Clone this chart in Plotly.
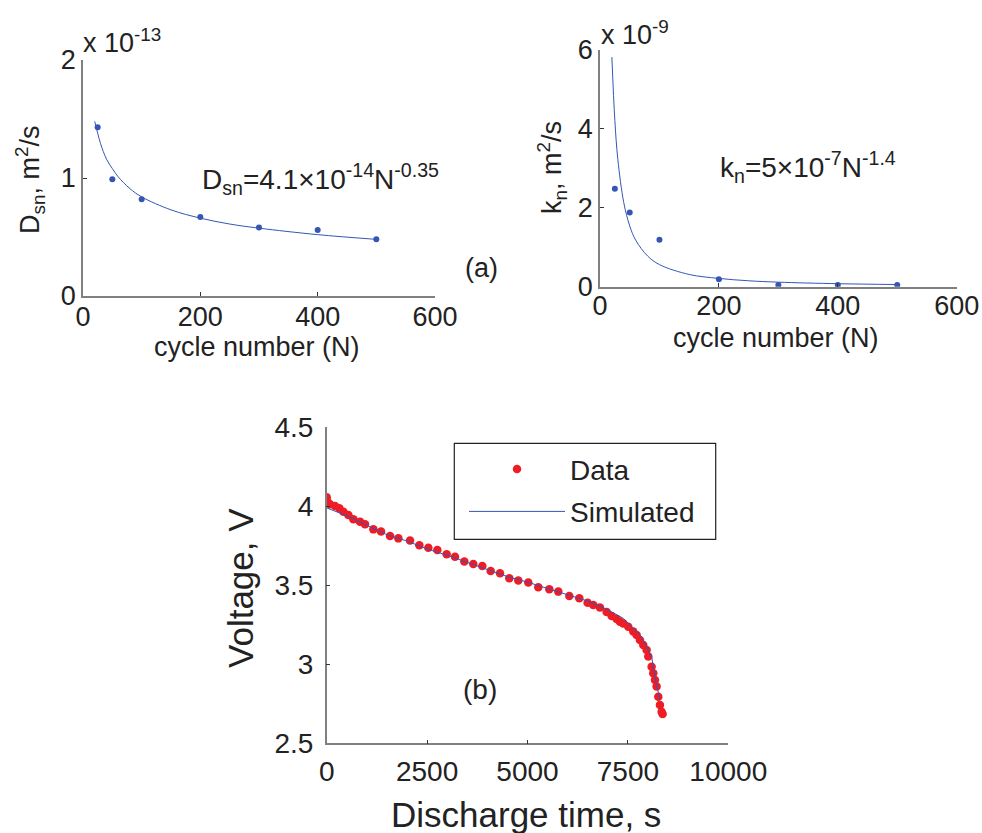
import plotly.graph_objects as go

# ---------- data ----------
cycles = [25, 50, 100, 200, 300, 400, 500]
dsn_pts = [1.43, 0.99, 0.82, 0.67, 0.58, 0.56, 0.48]          # x 1e-13 m^2/s
kn_pts = [2.48, 1.88, 1.19, 0.19, 0.04, 0.04, 0.04]           # x 1e-9 m^2/s

fit_N = [20, 25, 30, 40, 50, 60, 80, 100, 150, 200, 250, 300, 400, 500]
dsn_fit = [1.48, 1.38, 1.29, 1.16, 1.08, 1.01, 0.91, 0.84, 0.73, 0.66, 0.61, 0.575, 0.52, 0.48]
kn_fit = [5.82, 4.21, 3.23, 2.13, 1.54, 1.18, 0.78, 0.56, 0.31, 0.21, 0.15, 0.115, 0.076, 0.055]

t_data = [0, 17, 83, 207, 315, 415, 539, 664, 830, 954, 1162, 1353, 1577, 1784, 2075,
          2307, 2531, 2755, 2987, 3195, 3427, 3651, 3875, 4083, 4315, 4547, 4771, 5020,
          5269, 5543, 5767, 6041, 6290, 6497, 6638, 6804, 6970, 7095, 7219, 7302, 7385,
          7510, 7634, 7717, 7800, 7883, 7966, 8008, 8091, 8132, 8174, 8215, 8257, 8298,
          8340, 8364]
v_data = [4.057, 4.030, 4.013, 4.002, 3.987, 3.966, 3.945, 3.918, 3.903, 3.886, 3.854,
          3.840, 3.812, 3.797, 3.783, 3.753, 3.738, 3.724, 3.696, 3.681, 3.650, 3.635,
          3.622, 3.591, 3.576, 3.544, 3.530, 3.517, 3.487, 3.475, 3.460, 3.432, 3.418,
          3.390, 3.376, 3.359, 3.331, 3.306, 3.287, 3.270, 3.259, 3.238, 3.207, 3.186,
          3.154, 3.122, 3.091, 3.049, 2.985, 2.943, 2.901, 2.859, 2.795, 2.743, 2.700,
          2.686]
t_sim = [0, 500, 1000, 1500, 2000, 2500, 3000, 3500, 4000, 4500, 5000, 5500, 6000,
         6500, 7000, 7385, 7842, 8091, 8174, 8298]
v_sim = [3.99, 3.94, 3.88, 3.82, 3.78, 3.73, 3.69, 3.645, 3.60, 3.555, 3.52, 3.48,
         3.44, 3.40, 3.345, 3.291, 3.175, 3.049, 2.922, 2.774]

x_ticks_top = [0, 200, 400, 600]
y_ticks_a = [0, 1, 2]
y_ticks_b = [0, 2, 4, 6]
x_ticks_bot = [0, 2500, 5000, 7500, 10000]
x_ticktext_bot = ["0", "2500", "5000", "7500", "10000"]
y_ticks_bot = [2.5, 3, 3.5, 4, 4.5]

W, H = 982, 833
def px(x):
    return x / W
def py(y):
    return 1 - y / H

BLUE = "#3556B4"
RED = "#EE1D25"
FONT = "Liberation Sans, Arial, sans-serif"
AXC = "#808080"

fig = go.Figure()
fig.add_trace(go.Scatter(x=cycles, y=dsn_pts, mode="markers", marker=dict(color=BLUE, size=6),
                         xaxis="x", yaxis="y", showlegend=False))
fig.add_trace(go.Scatter(x=fit_N, y=dsn_fit, mode="lines", line=dict(color=BLUE, width=1, shape="spline"),
                         xaxis="x", yaxis="y", showlegend=False))
fig.add_trace(go.Scatter(x=cycles, y=kn_pts, mode="markers", marker=dict(color=BLUE, size=6),
                         xaxis="x2", yaxis="y2", showlegend=False))
fig.add_trace(go.Scatter(x=fit_N, y=kn_fit, mode="lines", line=dict(color=BLUE, width=1, shape="spline"),
                         xaxis="x2", yaxis="y2", showlegend=False))
fig.add_trace(go.Scatter(x=t_data, y=v_data, mode="markers", name="Data", legendgroup="d",
                         marker=dict(color=RED, size=8.5), xaxis="x3", yaxis="y3"))
fig.add_trace(go.Scatter(x=t_sim, y=v_sim, mode="lines", name="Simulated", legendgroup="s",
                         line=dict(color=BLUE, width=1), xaxis="x3", yaxis="y3"))

def ax(domain, rng, ticks, anchor, size, standoff, ticktext=None):
    d = dict(domain=domain, range=rng, tickvals=ticks, anchor=anchor, showgrid=False,
             zeroline=False, showline=True, linecolor=AXC, linewidth=1.5,
             ticks="inside", ticklen=4, tickcolor="#333", tickwidth=1,
             tickfont=dict(family=FONT, size=size, color="#222"),
             ticklabelstandoff=standoff, automargin=False)
    if ticktext is not None:
        d["ticktext"] = ticktext
    return d

fig.update_layout(
    width=W, height=H, margin=dict(l=0, r=0, t=0, b=0, pad=0, autoexpand=False),
    plot_bgcolor="white", paper_bgcolor="white",
    xaxis=ax([px(83), px(435)], [0, 600], x_ticks_top, "y", 27, -4),
    yaxis=ax([py(296), py(60)], [0, 2], y_ticks_a, "x", 27, 0),
    xaxis2=ax([px(600), px(956.7)], [0, 600], x_ticks_top, "y2", 27, -6),
    yaxis2=ax([py(286.7), py(50)], [0, 6], y_ticks_b, "x2", 27, 0),
    xaxis3=ax([px(326.7), px(728.3)], [0, 10000], x_ticks_bot, "y3", 28, 2, x_ticktext_bot),
    yaxis3=ax([py(743.3), py(427.3)], [2.5, 4.5], y_ticks_bot, "x3", 28, 6),
    showlegend=True,
    legend=dict(x=px(464), y=py(444.3), xanchor="left", yanchor="top",
                borderwidth=0, bgcolor="rgba(255,255,255,0)",
                font=dict(family=FONT, size=28, color="#222"), itemwidth=96,
                tracegroupgap=3),
    shapes=[dict(type="rect", xref="paper", yref="paper",
                 x0=px(454.3), x1=px(715.7), y0=py(539.3), y1=py(443.3),
                 line=dict(color="#222", width=1.2), fillcolor="white", layer="below")],
)

def ann(text, x, y, size, angle=0, xanchor="center", yanchor="middle"):
    fig.add_annotation(text=text, x=px(x), y=py(y), xref="paper", yref="paper",
                       showarrow=False, textangle=angle, xanchor=xanchor, yanchor=yanchor,
                       font=dict(family=FONT, size=size, color="#222"))

ann("x 10<sup>-13</sup>", 81, 60, 27, xanchor="left", yanchor="bottom")
ann("x 10<sup>-9</sup>", 599, 52, 27, xanchor="left", yanchor="bottom")
ann("D<sub>sn</sub>=4.1×10<sup>-14</sup>N<sup>-0.35</sup>", 200, 179, 28, xanchor="left")
ann("k<sub>n</sub>=5×10<sup>-7</sup>N<sup>-1.4</sup>", 718, 167, 28, xanchor="left")
ann("(a)", 481, 268, 27)
ann("(b)", 480, 689, 28)
ann("D<sub>sn</sub>, m<sup>2</sup>/s", 30, 180, 27, angle=-90)
ann("k<sub>n</sub>, m<sup>2</sup>/s", 552, 168, 27, angle=-90)
ann("cycle number (N)", 257, 347, 27)
ann("cycle number (N)", 776, 338, 27)
ann("Voltage, V", 240, 588, 35, angle=-90)
ann("Discharge time, s", 526, 814, 35)

fig.write_html(
    "out.html",
    config={"displayModeBar": False},
    post_script=("document.documentElement.style.margin='0';"
                 "document.body.style.margin='0';"
                 "document.body.style.overflow='hidden';"
                 "document.documentElement.style.overflow='hidden';"),
)
